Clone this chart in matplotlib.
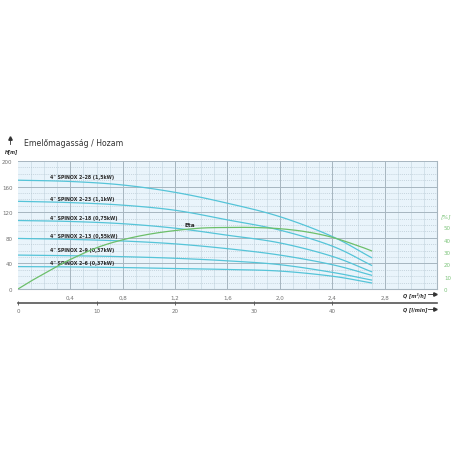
import matplotlib
matplotlib.use("Agg")
import matplotlib.pyplot as plt
from matplotlib.lines import Line2D
import numpy as np

# flow points (m3/h) where the pump curves were read
flow = [0, 0.4, 0.8, 1.2, 1.6, 2.0, 2.4, 2.7]

pumps = ['4" SPINOX 2\u201328 (1,5kW)', '4" SPINOX 2\u201323 (1,1kW)',
         '4" SPINOX 2\u201318 (0,75kW)', '4" SPINOX 2\u201313 (0,55kW)',
         '4" SPINOX 2\u20139 (0,37kW)', '4" SPINOX 2\u20136 (0,37kW)']
head_2_28 = [170, 168, 162.5, 151, 134, 113, 82, 49]
head_2_23 = [137, 135, 131, 123, 108, 92, 67, 37]
head_2_18 = [107, 105.5, 102, 95, 84, 72, 51, 27]
head_2_13 = [79, 77.5, 75, 70.5, 63, 53, 38, 21.5]
head_2_9 = [53, 52, 50.5, 48, 44, 38, 26, 14]
head_2_6 = [35, 34.5, 33.5, 32, 30.5, 28, 20, 9.5]
heads = [head_2_28, head_2_23, head_2_18, head_2_13, head_2_9, head_2_6]
label_y = [175, 142, 112, 83, 62, 41]

eta_flow = [0, 0.1, 0.2, 0.3, 0.4, 0.6, 0.8, 1.0, 1.2, 1.4, 1.6, 1.8, 2.0, 2.2, 2.4, 2.6, 2.7]
eta = [0, 6.5, 12.5, 18.5, 24, 33.5, 40, 44.5, 47.5, 49.5, 50, 50, 49, 46.5, 42, 35, 31]

x_ticks = [0.4, 0.8, 1.2, 1.6, 2.0, 2.4, 2.8]
lmin_ticks = [0, 10, 20, 30, 40]

NARROW = dict(family='DejaVu Sans', stretch='condensed')


def smooth(xs, ys, n=12):
    # catmull-rom through the read points
    xs, ys = np.asarray(xs, float), np.asarray(ys, float)
    px = np.concatenate([[2 * xs[0] - xs[1]], xs, [2 * xs[-1] - xs[-2]]])
    py = np.concatenate([[2 * ys[0] - ys[1]], ys, [2 * ys[-1] - ys[-2]]])
    ox, oy = [], []
    t = np.linspace(0, 1, n, endpoint=False)
    for i in range(1, len(px) - 2):
        for arr, out in ((px, ox), (py, oy)):
            p0, p1, p2, p3 = arr[i - 1:i + 3]
            out.extend(0.5 * (2 * p1 + (p2 - p0) * t + (2 * p0 - 5 * p1 + 4 * p2 - p3) * t ** 2
                              + (3 * p1 - p0 - 3 * p2 + p3) * t ** 3))
    ox.append(xs[-1])
    oy.append(ys[-1])
    return ox, oy


W = 456
fig = plt.figure(figsize=(4.56, 4.56), dpi=100)
L, R, B, T = 18 / W, 437 / W, 1 - 290 / W, 1 - 162 / W
ax = fig.add_axes([L, B, R - L, T - B])
ax.set_facecolor('#e9f4fb')
ax.set_xlim(0, 3.2)
ax.set_ylim(0, 200)

# grid
for v in np.arange(0.1, 3.2, 0.1):
    ax.axvline(v, color='#c9d9e3', lw=0.5, zorder=1)
for v in np.arange(10, 200, 10):
    ax.axhline(v, color='#b9c9d3', lw=0.5, ls=(0, (1.5, 1.5)), zorder=1)
for v in np.arange(0.4, 3.2, 0.4):
    ax.axvline(v, color='#a7b6c0', lw=0.7, zorder=1)
for v in range(40, 201, 40):
    ax.axhline(v, color='#a7b6c0', lw=0.7, zorder=1)

for h in heads:
    sx, sy = smooth(flow, h)
    ax.plot(sx, sy, color='#55c4d8', lw=0.9, zorder=3)
for name, y in zip(pumps, label_y):
    ax.text(0.245, y, name, fontsize=3.8, fontweight='bold', color='#2a2a2a',
            va='center', zorder=4, **NARROW)

for s in ['top', 'left']:
    ax.spines[s].set_visible(False)
ax.spines['right'].set_color('#a7b6c0')
ax.spines['bottom'].set_color('#a7b6c0')
ax.set_xticks(x_ticks)
ax.set_xticklabels([f'{v:.1f}'.replace('.', ',') for v in x_ticks])
ax.set_yticks(range(0, 201, 40))
ax.tick_params(length=0, labelsize=4.0, labelcolor='#707070', pad=4)

# efficiency on right axis
axr = ax.twinx()
axr.set_ylim(0, 104)
ex, ey = smooth(eta_flow, eta, 8)
axr.plot(ex, ey, color='#6cbf6a', lw=0.9, zorder=3)
axr.set_yticks(range(0, 51, 10))
axr.tick_params(length=0, labelsize=4.0, labelcolor='#7cc47a', pad=5)
for s in axr.spines.values():
    s.set_visible(False)
fig.text(441 / W, 1 - 217 / W, '[%]', fontsize=4.4, color='#7cc47a',
         style='italic', ha='left', va='center')
ax.text(1.27, 101, 'Eta', fontsize=4.6, fontweight='bold', color='#2a2a2a',
        va='center', zorder=4, **NARROW)

# second flow axis in l/min
ax2 = fig.add_axes([L, 1 - 304 / W, R - L, 0.0001])
ax2.set_xlim(0, 3.2 * 1000 / 60)
ax2.set_yticks([])
ax2.patch.set_visible(False)
for s in ['top', 'left', 'right']:
    ax2.spines[s].set_visible(False)
ax2.spines['bottom'].set_color('#555555')
ax2.spines['bottom'].set_linewidth(1.2)
ax2.set_xticks(lmin_ticks)
ax2.tick_params(direction='inout', length=3, width=0.6, color='#555555',
                labelsize=4.0, labelcolor='#707070', pad=2)

# titles and axis names
fig.text(24 / W, 1 - 144 / W, 'Emel\u0151magass\u00e1g / Hozam', fontsize=5.6,
         color='#333333', va='center')
fig.add_artist(Line2D([10 / W, 10 / W], [1 - 145 / W, 1 - 139 / W], color='#333333',
                      lw=0.6, transform=fig.transFigure))
fig.add_artist(Line2D([10 / W], [1 - 139 / W], marker='^', ms=2.5, color='#333333',
                      transform=fig.transFigure))
fig.text(5 / W, 1 - 152 / W, 'H[m]', fontsize=3.8, color='#333333', style='italic',
         fontweight='bold', ha='left', va='center', **NARROW)
fig.text(403 / W, 1 - 295 / W, 'Q [m\u00b3/h]', fontsize=4.0, color='#333333',
         style='italic', fontweight='bold', va='center', **NARROW)
fig.text(403 / W, 1 - 310 / W, 'Q [l/min]', fontsize=4.0, color='#333333',
         style='italic', fontweight='bold', va='center', **NARROW)
for yy in (295, 310):
    fig.add_artist(Line2D([428 / W, 435 / W], [1 - yy / W, 1 - yy / W], color='#333333',
                          lw=0.6, transform=fig.transFigure))
    fig.add_artist(Line2D([435 / W], [1 - yy / W], marker='>', ms=2.5, color='#333333',
                          transform=fig.transFigure))

fig.savefig('out.png', dpi=100, facecolor='white')
